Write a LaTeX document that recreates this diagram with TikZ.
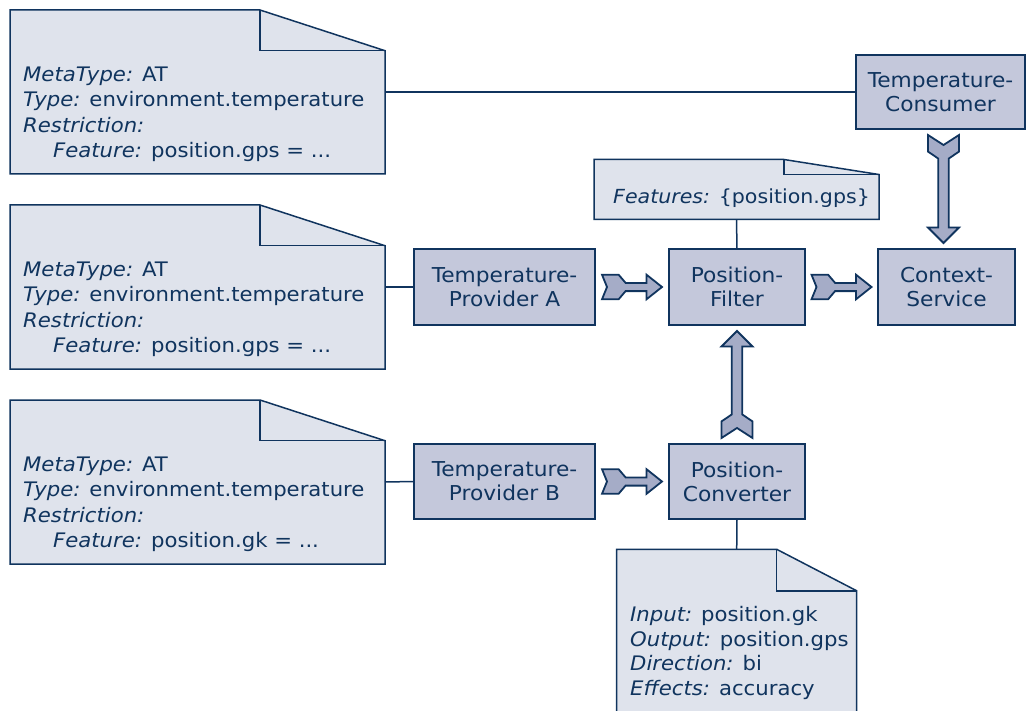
\documentclass[tikz,border=0pt]{standalone}
\usepackage{fontspec}
\setmainfont{DejaVu Sans}[FakeStretch=1.06]
\usetikzlibrary{calc}

\definecolor{navy}{RGB}{16,52,94}
\definecolor{boxfill}{RGB}{196,200,219}
\definecolor{notefill}{RGB}{223,227,236}
\definecolor{arrowfill}{RGB}{165,172,199}

% note with a folded corner: node name, fold width, fold depth
\newcommand\dogear[3]{%
  \filldraw[noteline, fill=notefill]
    (#1.north west) -- ($(#1.north east)+(-#2,0)$) -- ($(#1.north east)+(0,#3)$)
    -- (#1.south east) -- (#1.south west) -- cycle;
  \draw[noteline] ($(#1.north east)+(-#2,0)$) -- ($(#1.north east)+(-#2,#3)$)
    -- ($(#1.north east)+(0,#3)$);
}

\tikzset{
  notearea/.style={draw=none, inner sep=0pt, outer sep=0pt},
  noteline/.style={draw=navy, line width=1.5pt, line join=miter},
  notetext/.style={anchor=base west, inner sep=0pt, text=navy,
    font=\fontsize{20}{25.3}\selectfont},
  compbox/.style={draw=navy, line width=2.6pt, fill=boxfill, align=center,
    text=navy, inner sep=0pt, outer sep=0pt,
    minimum width=181pt, minimum height=76pt,
    font=\fontsize{20.5}{24}\selectfont},
  conn/.style={draw=navy, line width=1.5pt},
  % block arrow with a notched tail: length / head half-width / notch depth
  pics/fatarrow/.style args={#1/#2/#3}{code={
    \pgfmathsetmacro\fl{#1/2}
    \pgfmathsetmacro\fh{#2}
    \pgfmathsetmacro\fs{#2/3}
    \draw[draw=navy, line width=1.8pt, fill=arrowfill, line join=miter]
      (-\fl,-\fh) -- ({-\fl+#3},0) -- (-\fl,\fh) -- ({-\fl+16.6},\fh)
      -- ({-\fl+23.6},\fs) -- ({\fl-15.5},\fs) -- ({\fl-15.5},\fh)
      -- (\fl,0) -- ({\fl-15.5},-\fh) -- ({\fl-15.5},-\fs)
      -- ({-\fl+23.6},-\fs) -- ({-\fl+16.6},-\fh) -- cycle;
  }},
}

\begin{document}
\begin{tikzpicture}[x=1pt, y=-1pt]
\useasboundingbox (0,0) rectangle (1027,711);
\clip (0,0) rectangle (1027,711);

% annotation notes
\node[notearea, minimum width=375pt, minimum height=164pt] (n1) at (197.5,92) {};
\node[notearea, minimum width=375pt, minimum height=164pt] (n2) at (197.5,287) {};
\node[notearea, minimum width=375pt, minimum height=164pt] (n3) at (197.5,482) {};
\node[notearea, minimum width=285pt, minimum height=60pt] (fn) at (736.5,189.5) {};
\node[notearea, minimum width=240pt, minimum height=190pt] (bn) at (736.7,644.3) {};
\dogear{n1}{125}{40.7}
\dogear{n2}{125}{40.7}
\dogear{n3}{125}{40.7}
\dogear{fn}{95}{15}
\dogear{bn}{80}{41.5}

\node[notetext] (t1) at (23,81.5) {\begin{tabular}[t]{@{}l@{}}
  \textit{MetaType:} AT\\ \textit{Type:} environment.temperature\\
  \textit{Restriction:}\\ \hspace*{30pt}\textit{Feature:} position.gps = ...\end{tabular}};
\node[notetext] (t2) at (23,276.5) {\begin{tabular}[t]{@{}l@{}}
  \textit{MetaType:} AT\\ \textit{Type:} environment.temperature\\
  \textit{Restriction:}\\ \hspace*{30pt}\textit{Feature:} position.gps = ...\end{tabular}};
\node[notetext] (t3) at (23,471.5) {\begin{tabular}[t]{@{}l@{}}
  \textit{MetaType:} AT\\ \textit{Type:} environment.temperature\\
  \textit{Restriction:}\\ \hspace*{30pt}\textit{Feature:} position.gk = ...\end{tabular}};
\node[notetext, font=\fontsize{19.4}{25.3}\selectfont] (tf) at (613,203.3) {\textit{Features:} \{position.gps\}};
\node[notetext, font=\fontsize{20}{24.5}\selectfont] (tb) at (630,621.7) {\begin{tabular}[t]{@{}l@{}}
  \textit{Input:} position.gk\\ \textit{Output:} position.gps\\
  \textit{Direction:} bi\\ \textit{Effects:} accuracy\end{tabular}};

% components
\node[compbox, minimum width=169pt, minimum height=74pt] (tc) at (940.5,92) {Temperature-\\Consumer};
\node[compbox] (tpa) at (504.5,287) {Temperature-\\Provider A};
\node[compbox, minimum width=136pt] (pf) at (737,287) {Position-\\Filter};
\node[compbox, minimum width=137pt] (cs) at (946.5,287) {Context-\\Service};
\node[compbox, minimum height=75pt] (tpb) at (504.5,481.5) {Temperature-\\Provider B};
\node[compbox, minimum width=136pt, minimum height=75pt] (pc) at (737,481.5) {Position-\\Converter};

% note links
\draw[conn] (n1.east) -- (tc.west);
\draw[conn] (n2.east) -- (tpa.west);
\draw[conn] (n3.east) -- (tpb.west);
\draw[conn] (fn.south) -- (pf.north);
\draw[conn] (pc.south) -- (bn.north);

% data flow
\pic at ($(tpa.east)!0.5!(pf.west)$) {fatarrow=60/12.3/5};
\pic at ($(pf.east)!0.5!(cs.west)$) {fatarrow=60/12.3/5};
\pic at ($(tpb.east)!0.5!(pc.west)$) {fatarrow=60/12.3/5};
\pic[rotate=90] at ($(pc.north)!0.5!(pf.south)$) {fatarrow=107/15.5/10};
\pic[rotate=-90] at ($(tc.south)!0.5!(cs.north)$) {fatarrow=108/15.5/10};
\end{tikzpicture}
\end{document}
